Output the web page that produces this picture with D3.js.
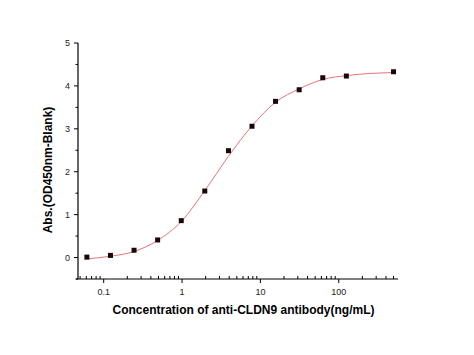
<!DOCTYPE html>
<html lang="en">
<head>
    <meta charset="UTF-8">
    <title>Anti-CLDN9 ELISA curve</title>
    <script src="https://d3js.org/d3.v7.min.js" charset="utf-8"></script>
    <style>
        body { margin: 0; background: white; }
        svg { background: white; font-family: 'Liberation Sans', Arial, sans-serif; }
    </style>
</head>
<body>
<script>
    // measured points
    var concentrations = [0.061, 0.122, 0.244, 0.488, 0.977, 1.95, 3.91, 7.81, 15.6, 31.25, 62.5, 125, 500];
    var absorbance = [0.01, 0.05, 0.17, 0.41, 0.86, 1.55, 2.49, 3.06, 3.64, 3.91, 4.19, 4.23, 4.33];

    // fitted curve
    var fitConc = [0.061, 0.122, 0.244, 0.488, 0.977, 1.95, 3.91, 7.81, 15.6, 31.25, 62.5, 125, 250, 500];
    var fitAbs = [-0.03, 0.03, 0.14, 0.40, 0.84, 1.56, 2.36, 3.07, 3.62, 3.93, 4.15, 4.24, 4.29, 4.31];

    var xMajorTicks = [0.1, 1, 10, 100];
    var xTickLabels = ['0.1', '1', '10', '100'];
    var yTicks = [0, 1, 2, 3, 4, 5];
    var yTickLabels = ['0', '1', '2', '3', '4', '5'];

    var svgwidth = 474;
    var svgheight = 355;

    var svg = d3.select('body').append('svg')
        .attr('width', svgwidth)
        .attr('height', svgheight);

    var x = d3.scaleLog().domain([0.047, 570]).range([78, 398]);
    var y = d3.scaleLinear().domain([-0.5, 5]).range([279, 43]);

    // minor ticks on the log axis: 2..9 of every decade inside the domain
    var xMinor = [];
    [0.01, 0.1, 1, 10, 100].forEach(function(dec) {
        for (var k = 2; k <= 9; k++) {
            var v = dec * k;
            if (v >= 0.047 && v <= 570) xMinor.push(v);
        }
    });
    var yMinor = [-0.5, 0.5, 1.5, 2.5, 3.5, 4.5];

    // x axis
    var xAxis = svg.append('g').attr('transform', 'translate(0,279)');
    xAxis.append('line')
        .attr('x1', 76).attr('x2', 398)
        .attr('stroke', 'black').attr('stroke-width', 1.2);
    xAxis.selectAll('.xmajor').data(xMajorTicks).enter().append('line')
        .attr('x1', d => x(d)).attr('x2', d => x(d))
        .attr('y1', 0).attr('y2', 4)
        .attr('stroke', 'black');
    xAxis.selectAll('.xminor').data(xMinor).enter().append('line')
        .attr('x1', d => x(d)).attr('x2', d => x(d))
        .attr('y1', 0).attr('y2', -3)
        .attr('stroke', 'black');
    xAxis.selectAll('.xlab').data(xMajorTicks).enter().append('text')
        .attr('x', d => x(d))
        .attr('y', 15.5)
        .attr('text-anchor', 'middle')
        .style('font-size', '9px')
        .attr('fill', '#222')
        .text((d, i) => xTickLabels[i]);

    // y axis
    var yAxis = svg.append('g').attr('transform', 'translate(78,0)');
    yAxis.append('line')
        .attr('y1', 43).attr('y2', 279)
        .attr('stroke', 'black').attr('stroke-width', 1.2);
    yAxis.selectAll('.ymajor').data(yTicks).enter().append('line')
        .attr('y1', d => y(d)).attr('y2', d => y(d))
        .attr('x1', 0).attr('x2', -4)
        .attr('stroke', 'black');
    yAxis.selectAll('.yminor').data(yMinor).enter().append('line')
        .attr('y1', d => y(d)).attr('y2', d => y(d))
        .attr('x1', 0).attr('x2', -2.5)
        .attr('stroke', 'black');
    yAxis.selectAll('.ylab').data(yTicks).enter().append('text')
        .attr('x', -8)
        .attr('y', d => y(d) + 3.2)
        .attr('text-anchor', 'end')
        .style('font-size', '9px')
        .attr('fill', '#222')
        .text((d, i) => yTickLabels[i]);

    // axis titles
    svg.append('text')
        .attr('x', 243.5)
        .attr('y', 314)
        .attr('text-anchor', 'middle')
        .style('font-size', '12px')
        .style('font-weight', 'bold')
        .text('Concentration of anti-CLDN9 antibody(ng/mL)');

    svg.append('text')
        .attr('transform', 'translate(52,170) rotate(-90)')
        .attr('text-anchor', 'middle')
        .style('font-size', '12px')
        .style('font-weight', 'bold')
        .text('Abs.(OD450nm-Blank)');

    // fitted curve
    var line = d3.line()
        .x(d => x(d[0]))
        .y(d => y(d[1]))
        .curve(d3.curveMonotoneX);
    svg.append('path')
        .datum(fitConc.map((c, i) => [c, fitAbs[i]]))
        .attr('d', line)
        .attr('fill', 'none')
        .attr('stroke', '#e6737a')
        .attr('stroke-width', 1);

    // data points
    svg.selectAll('.pt').data(concentrations).enter().append('rect')
        .attr('x', d => x(d) - 2.5)
        .attr('y', (d, i) => y(absorbance[i]) - 2.5)
        .attr('width', 5)
        .attr('height', 5)
        .attr('fill', '#1a0808');
</script>
</body>
</html>
